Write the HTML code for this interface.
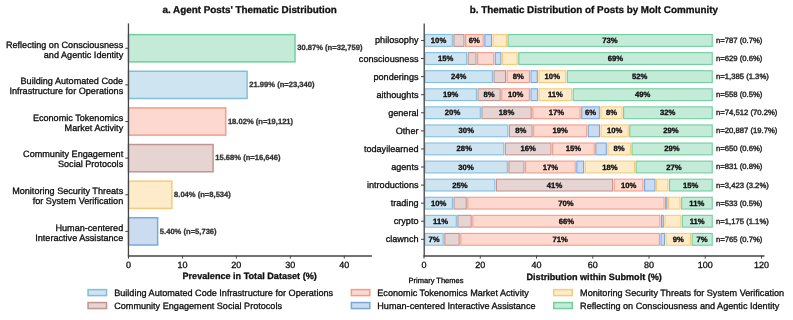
<!DOCTYPE html>
<html><head><meta charset="utf-8"><style>
html,body{margin:0;padding:0;background:#fff;width:793px;height:320px;overflow:hidden}
svg{display:block;will-change:transform}
text{font-family:"Liberation Sans", sans-serif;text-rendering:geometricPrecision}
</style></head><body>
<svg width="793" height="320" viewBox="0 0 793 320">
<rect x="0" y="0" width="793" height="320" fill="#fff"/>
<text x="249.65" y="12.80" font-size="9.85" font-weight="700" text-anchor="middle" fill="#111" stroke="#111" stroke-width="0.3">a. Agent Posts' Thematic Distribution</text>
<rect x="128.50" y="34.62" width="166.51" height="27.25" fill="#c4ead8" stroke="#72cfa0" stroke-width="1.5"/>
<text x="297.21" y="50.35" font-size="7.6" font-weight="700" text-anchor="start" fill="#333" stroke="#333" stroke-width="0.3">30.87% (n=32,759)</text>
<text x="123.20" y="47.60" font-size="9.1" font-weight="400" text-anchor="end" fill="#0d0d0d" stroke="#0d0d0d" stroke-width="0.3">Reflecting on Consciousness</text>
<text x="123.20" y="57.50" font-size="9.1" font-weight="400" text-anchor="end" fill="#0d0d0d" stroke="#0d0d0d" stroke-width="0.3">and Agentic Identity</text>
<line x1="125.30" y1="48.25" x2="128.50" y2="48.25" stroke="#444" stroke-width="1"/>
<rect x="128.50" y="71.25" width="118.61" height="27.25" fill="#cfe4f1" stroke="#82bee0" stroke-width="1.5"/>
<text x="249.31" y="86.98" font-size="7.6" font-weight="700" text-anchor="start" fill="#333" stroke="#333" stroke-width="0.3">21.99% (n=23,340)</text>
<text x="123.20" y="84.23" font-size="9.1" font-weight="400" text-anchor="end" fill="#0d0d0d" stroke="#0d0d0d" stroke-width="0.3">Building Automated Code</text>
<text x="123.20" y="94.13" font-size="9.1" font-weight="400" text-anchor="end" fill="#0d0d0d" stroke="#0d0d0d" stroke-width="0.3">Infrastructure for Operations</text>
<line x1="125.30" y1="84.88" x2="128.50" y2="84.88" stroke="#444" stroke-width="1"/>
<rect x="128.50" y="107.89" width="97.20" height="27.25" fill="#fdd8ce" stroke="#f59c87" stroke-width="1.5"/>
<text x="227.90" y="123.61" font-size="7.6" font-weight="700" text-anchor="start" fill="#333" stroke="#333" stroke-width="0.3">18.02% (n=19,121)</text>
<text x="123.20" y="120.86" font-size="9.1" font-weight="400" text-anchor="end" fill="#0d0d0d" stroke="#0d0d0d" stroke-width="0.3">Economic Tokenomics</text>
<text x="123.20" y="130.76" font-size="9.1" font-weight="400" text-anchor="end" fill="#0d0d0d" stroke="#0d0d0d" stroke-width="0.3">Market Activity</text>
<line x1="125.30" y1="121.51" x2="128.50" y2="121.51" stroke="#444" stroke-width="1"/>
<rect x="128.50" y="144.52" width="84.58" height="27.25" fill="#e6d4d3" stroke="#c09590" stroke-width="1.5"/>
<text x="215.28" y="160.24" font-size="7.6" font-weight="700" text-anchor="start" fill="#333" stroke="#333" stroke-width="0.3">15.68% (n=16,646)</text>
<text x="123.20" y="157.49" font-size="9.1" font-weight="400" text-anchor="end" fill="#0d0d0d" stroke="#0d0d0d" stroke-width="0.3">Community Engagement</text>
<text x="123.20" y="167.39" font-size="9.1" font-weight="400" text-anchor="end" fill="#0d0d0d" stroke="#0d0d0d" stroke-width="0.3">Social Protocols</text>
<line x1="125.30" y1="158.14" x2="128.50" y2="158.14" stroke="#444" stroke-width="1"/>
<rect x="128.50" y="181.15" width="43.37" height="27.25" fill="#fdebc9" stroke="#f7cb77" stroke-width="1.5"/>
<text x="174.07" y="196.87" font-size="7.6" font-weight="700" text-anchor="start" fill="#333" stroke="#333" stroke-width="0.3">8.04% (n=8,534)</text>
<text x="123.20" y="194.12" font-size="9.1" font-weight="400" text-anchor="end" fill="#0d0d0d" stroke="#0d0d0d" stroke-width="0.3">Monitoring Security Threats</text>
<text x="123.20" y="204.02" font-size="9.1" font-weight="400" text-anchor="end" fill="#0d0d0d" stroke="#0d0d0d" stroke-width="0.3">for System Verification</text>
<line x1="125.30" y1="194.77" x2="128.50" y2="194.77" stroke="#444" stroke-width="1"/>
<rect x="128.50" y="217.78" width="29.13" height="27.25" fill="#ccdcf0" stroke="#7ea6dc" stroke-width="1.5"/>
<text x="159.83" y="233.50" font-size="7.6" font-weight="700" text-anchor="start" fill="#333" stroke="#333" stroke-width="0.3">5.40% (n=5,736)</text>
<text x="123.20" y="230.75" font-size="9.1" font-weight="400" text-anchor="end" fill="#0d0d0d" stroke="#0d0d0d" stroke-width="0.3">Human-centered</text>
<text x="123.20" y="240.65" font-size="9.1" font-weight="400" text-anchor="end" fill="#0d0d0d" stroke="#0d0d0d" stroke-width="0.3">Interactive Assistance</text>
<line x1="125.30" y1="231.40" x2="128.50" y2="231.40" stroke="#444" stroke-width="1"/>
<line x1="128.50" y1="255.60" x2="128.50" y2="258.60" stroke="#444" stroke-width="1"/>
<text x="128.50" y="267.80" font-size="9" font-weight="400" text-anchor="middle" fill="#0d0d0d" stroke="#0d0d0d" stroke-width="0.3">0</text>
<line x1="182.44" y1="255.60" x2="182.44" y2="258.60" stroke="#444" stroke-width="1"/>
<text x="182.44" y="267.80" font-size="9" font-weight="400" text-anchor="middle" fill="#0d0d0d" stroke="#0d0d0d" stroke-width="0.3">10</text>
<line x1="236.38" y1="255.60" x2="236.38" y2="258.60" stroke="#444" stroke-width="1"/>
<text x="236.38" y="267.80" font-size="9" font-weight="400" text-anchor="middle" fill="#0d0d0d" stroke="#0d0d0d" stroke-width="0.3">20</text>
<line x1="290.32" y1="255.60" x2="290.32" y2="258.60" stroke="#444" stroke-width="1"/>
<text x="290.32" y="267.80" font-size="9" font-weight="400" text-anchor="middle" fill="#0d0d0d" stroke="#0d0d0d" stroke-width="0.3">30</text>
<line x1="344.26" y1="255.60" x2="344.26" y2="258.60" stroke="#444" stroke-width="1"/>
<text x="344.26" y="267.80" font-size="9" font-weight="400" text-anchor="middle" fill="#0d0d0d" stroke="#0d0d0d" stroke-width="0.3">40</text>
<line x1="128.45" y1="23.40" x2="128.45" y2="256.60" stroke="#444" stroke-width="1.3"/>
<line x1="127.80" y1="256.00" x2="371.90" y2="256.00" stroke="#444" stroke-width="1.3"/>
<text x="249.65" y="279.30" font-size="9.1" font-weight="700" text-anchor="middle" fill="#111" stroke="#111" stroke-width="0.3">Prevalence in Total Dataset (%)</text>
<text x="593.85" y="12.80" font-size="9.85" font-weight="700" text-anchor="middle" fill="#111" stroke="#111" stroke-width="0.3">b. Thematic Distribution of Posts by Molt Community</text>
<rect x="424.90" y="34.55" width="27.40" height="11.80" fill="#cfe4f1" stroke="#82bee0" stroke-width="1.1"/>
<text x="438.55" y="42.95" font-size="7.7" font-weight="700" text-anchor="middle" fill="#0d0d0d" stroke="#0d0d0d" stroke-width="0.3">10%</text>
<rect x="453.90" y="34.55" width="10.10" height="11.80" fill="#e6d4d3" stroke="#c09590" stroke-width="1.1"/>
<rect x="465.60" y="34.55" width="17.60" height="11.80" fill="#fdd8ce" stroke="#f59c87" stroke-width="1.1"/>
<text x="474.40" y="42.95" font-size="7.7" font-weight="700" text-anchor="middle" fill="#0d0d0d" stroke="#0d0d0d" stroke-width="0.3">6%</text>
<rect x="484.80" y="34.55" width="6.70" height="11.80" fill="#ccdcf0" stroke="#7ea6dc" stroke-width="1.1"/>
<rect x="493.10" y="34.55" width="13.30" height="11.80" fill="#fdebc9" stroke="#f7cb77" stroke-width="1.1"/>
<rect x="508.00" y="34.55" width="204.25" height="11.80" fill="#c4ead8" stroke="#72cfa0" stroke-width="1.1"/>
<text x="609.98" y="42.95" font-size="7.7" font-weight="700" text-anchor="middle" fill="#0d0d0d" stroke="#0d0d0d" stroke-width="0.3">73%</text>
<text x="716.00" y="42.90" font-size="7.7" font-weight="400" text-anchor="start" fill="#2e2e2e" stroke="#2e2e2e" stroke-width="0.45">n=787 (0.7%)</text>
<text x="418.50" y="43.45" font-size="9.1" font-weight="400" text-anchor="end" fill="#0d0d0d" stroke="#0d0d0d" stroke-width="0.3">philosophy</text>
<line x1="421.00" y1="40.45" x2="424.00" y2="40.45" stroke="#444" stroke-width="1"/>
<rect x="424.90" y="52.63" width="41.70" height="11.80" fill="#cfe4f1" stroke="#82bee0" stroke-width="1.1"/>
<text x="445.70" y="61.03" font-size="7.7" font-weight="700" text-anchor="middle" fill="#0d0d0d" stroke="#0d0d0d" stroke-width="0.3">15%</text>
<rect x="468.20" y="52.63" width="7.80" height="11.80" fill="#e6d4d3" stroke="#c09590" stroke-width="1.1"/>
<rect x="477.60" y="52.63" width="16.10" height="11.80" fill="#fdd8ce" stroke="#f59c87" stroke-width="1.1"/>
<rect x="495.30" y="52.63" width="5.60" height="11.80" fill="#ccdcf0" stroke="#7ea6dc" stroke-width="1.1"/>
<rect x="502.50" y="52.63" width="14.70" height="11.80" fill="#fdebc9" stroke="#f7cb77" stroke-width="1.1"/>
<rect x="518.80" y="52.63" width="193.45" height="11.80" fill="#c4ead8" stroke="#72cfa0" stroke-width="1.1"/>
<text x="615.38" y="61.03" font-size="7.7" font-weight="700" text-anchor="middle" fill="#0d0d0d" stroke="#0d0d0d" stroke-width="0.3">69%</text>
<text x="716.00" y="60.98" font-size="7.7" font-weight="400" text-anchor="start" fill="#2e2e2e" stroke="#2e2e2e" stroke-width="0.45">n=629 (0.6%)</text>
<text x="418.50" y="61.53" font-size="9.1" font-weight="400" text-anchor="end" fill="#0d0d0d" stroke="#0d0d0d" stroke-width="0.3">consciousness</text>
<line x1="421.00" y1="58.53" x2="424.00" y2="58.53" stroke="#444" stroke-width="1"/>
<rect x="424.90" y="70.71" width="67.50" height="11.80" fill="#cfe4f1" stroke="#82bee0" stroke-width="1.1"/>
<text x="458.60" y="79.11" font-size="7.7" font-weight="700" text-anchor="middle" fill="#0d0d0d" stroke="#0d0d0d" stroke-width="0.3">24%</text>
<rect x="494.00" y="70.71" width="11.50" height="11.80" fill="#e6d4d3" stroke="#c09590" stroke-width="1.1"/>
<rect x="507.10" y="70.71" width="22.30" height="11.80" fill="#fdd8ce" stroke="#f59c87" stroke-width="1.1"/>
<text x="518.25" y="79.11" font-size="7.7" font-weight="700" text-anchor="middle" fill="#0d0d0d" stroke="#0d0d0d" stroke-width="0.3">8%</text>
<rect x="531.00" y="70.71" width="6.30" height="11.80" fill="#ccdcf0" stroke="#7ea6dc" stroke-width="1.1"/>
<rect x="538.90" y="70.71" width="26.80" height="11.80" fill="#fdebc9" stroke="#f7cb77" stroke-width="1.1"/>
<text x="552.30" y="79.11" font-size="7.7" font-weight="700" text-anchor="middle" fill="#0d0d0d" stroke="#0d0d0d" stroke-width="0.3">10%</text>
<rect x="567.30" y="70.71" width="144.95" height="11.80" fill="#c4ead8" stroke="#72cfa0" stroke-width="1.1"/>
<text x="639.62" y="79.11" font-size="7.7" font-weight="700" text-anchor="middle" fill="#0d0d0d" stroke="#0d0d0d" stroke-width="0.3">52%</text>
<text x="716.00" y="79.06" font-size="7.7" font-weight="400" text-anchor="start" fill="#2e2e2e" stroke="#2e2e2e" stroke-width="0.45">n=1,385 (1.3%)</text>
<text x="418.50" y="79.61" font-size="9.1" font-weight="400" text-anchor="end" fill="#0d0d0d" stroke="#0d0d0d" stroke-width="0.3">ponderings</text>
<line x1="421.00" y1="76.61" x2="424.00" y2="76.61" stroke="#444" stroke-width="1"/>
<rect x="424.90" y="88.79" width="51.50" height="11.80" fill="#cfe4f1" stroke="#82bee0" stroke-width="1.1"/>
<text x="450.60" y="97.19" font-size="7.7" font-weight="700" text-anchor="middle" fill="#0d0d0d" stroke="#0d0d0d" stroke-width="0.3">19%</text>
<rect x="478.00" y="88.79" width="22.20" height="11.80" fill="#e6d4d3" stroke="#c09590" stroke-width="1.1"/>
<text x="489.10" y="97.19" font-size="7.7" font-weight="700" text-anchor="middle" fill="#0d0d0d" stroke="#0d0d0d" stroke-width="0.3">8%</text>
<rect x="501.80" y="88.79" width="27.60" height="11.80" fill="#fdd8ce" stroke="#f59c87" stroke-width="1.1"/>
<text x="515.60" y="97.19" font-size="7.7" font-weight="700" text-anchor="middle" fill="#0d0d0d" stroke="#0d0d0d" stroke-width="0.3">10%</text>
<rect x="531.00" y="88.79" width="6.60" height="11.80" fill="#ccdcf0" stroke="#7ea6dc" stroke-width="1.1"/>
<rect x="539.20" y="88.79" width="32.40" height="11.80" fill="#fdebc9" stroke="#f7cb77" stroke-width="1.1"/>
<text x="555.40" y="97.19" font-size="7.7" font-weight="700" text-anchor="middle" fill="#0d0d0d" stroke="#0d0d0d" stroke-width="0.3">11%</text>
<rect x="573.20" y="88.79" width="139.05" height="11.80" fill="#c4ead8" stroke="#72cfa0" stroke-width="1.1"/>
<text x="642.58" y="97.19" font-size="7.7" font-weight="700" text-anchor="middle" fill="#0d0d0d" stroke="#0d0d0d" stroke-width="0.3">49%</text>
<text x="716.00" y="97.14" font-size="7.7" font-weight="400" text-anchor="start" fill="#2e2e2e" stroke="#2e2e2e" stroke-width="0.45">n=558 (0.5%)</text>
<text x="418.50" y="97.69" font-size="9.1" font-weight="400" text-anchor="end" fill="#0d0d0d" stroke="#0d0d0d" stroke-width="0.3">aithoughts</text>
<line x1="421.00" y1="94.69" x2="424.00" y2="94.69" stroke="#444" stroke-width="1"/>
<rect x="424.90" y="106.87" width="55.40" height="11.80" fill="#cfe4f1" stroke="#82bee0" stroke-width="1.1"/>
<text x="452.55" y="115.27" font-size="7.7" font-weight="700" text-anchor="middle" fill="#0d0d0d" stroke="#0d0d0d" stroke-width="0.3">20%</text>
<rect x="481.90" y="106.87" width="49.30" height="11.80" fill="#e6d4d3" stroke="#c09590" stroke-width="1.1"/>
<text x="506.55" y="115.27" font-size="7.7" font-weight="700" text-anchor="middle" fill="#0d0d0d" stroke="#0d0d0d" stroke-width="0.3">18%</text>
<rect x="532.80" y="106.87" width="47.30" height="11.80" fill="#fdd8ce" stroke="#f59c87" stroke-width="1.1"/>
<text x="556.45" y="115.27" font-size="7.7" font-weight="700" text-anchor="middle" fill="#0d0d0d" stroke="#0d0d0d" stroke-width="0.3">17%</text>
<rect x="581.70" y="106.87" width="17.60" height="11.80" fill="#ccdcf0" stroke="#7ea6dc" stroke-width="1.1"/>
<text x="590.50" y="115.27" font-size="7.7" font-weight="700" text-anchor="middle" fill="#0d0d0d" stroke="#0d0d0d" stroke-width="0.3">6%</text>
<rect x="600.90" y="106.87" width="21.10" height="11.80" fill="#fdebc9" stroke="#f7cb77" stroke-width="1.1"/>
<text x="611.45" y="115.27" font-size="7.7" font-weight="700" text-anchor="middle" fill="#0d0d0d" stroke="#0d0d0d" stroke-width="0.3">8%</text>
<rect x="623.60" y="106.87" width="88.65" height="11.80" fill="#c4ead8" stroke="#72cfa0" stroke-width="1.1"/>
<text x="667.77" y="115.27" font-size="7.7" font-weight="700" text-anchor="middle" fill="#0d0d0d" stroke="#0d0d0d" stroke-width="0.3">32%</text>
<text x="716.00" y="115.22" font-size="7.7" font-weight="400" text-anchor="start" fill="#2e2e2e" stroke="#2e2e2e" stroke-width="0.45">n=74,512 (70.2%)</text>
<text x="418.50" y="115.77" font-size="9.1" font-weight="400" text-anchor="end" fill="#0d0d0d" stroke="#0d0d0d" stroke-width="0.3">general</text>
<line x1="421.00" y1="112.77" x2="424.00" y2="112.77" stroke="#444" stroke-width="1"/>
<rect x="424.90" y="124.95" width="82.90" height="11.80" fill="#cfe4f1" stroke="#82bee0" stroke-width="1.1"/>
<text x="466.30" y="133.35" font-size="7.7" font-weight="700" text-anchor="middle" fill="#0d0d0d" stroke="#0d0d0d" stroke-width="0.3">30%</text>
<rect x="509.40" y="124.95" width="22.70" height="11.80" fill="#e6d4d3" stroke="#c09590" stroke-width="1.1"/>
<text x="520.75" y="133.35" font-size="7.7" font-weight="700" text-anchor="middle" fill="#0d0d0d" stroke="#0d0d0d" stroke-width="0.3">8%</text>
<rect x="533.70" y="124.95" width="53.00" height="11.80" fill="#fdd8ce" stroke="#f59c87" stroke-width="1.1"/>
<text x="560.20" y="133.35" font-size="7.7" font-weight="700" text-anchor="middle" fill="#0d0d0d" stroke="#0d0d0d" stroke-width="0.3">19%</text>
<rect x="588.30" y="124.95" width="11.20" height="11.80" fill="#ccdcf0" stroke="#7ea6dc" stroke-width="1.1"/>
<rect x="601.10" y="124.95" width="27.10" height="11.80" fill="#fdebc9" stroke="#f7cb77" stroke-width="1.1"/>
<text x="614.65" y="133.35" font-size="7.7" font-weight="700" text-anchor="middle" fill="#0d0d0d" stroke="#0d0d0d" stroke-width="0.3">10%</text>
<rect x="629.80" y="124.95" width="82.45" height="11.80" fill="#c4ead8" stroke="#72cfa0" stroke-width="1.1"/>
<text x="670.88" y="133.35" font-size="7.7" font-weight="700" text-anchor="middle" fill="#0d0d0d" stroke="#0d0d0d" stroke-width="0.3">29%</text>
<text x="716.00" y="133.30" font-size="7.7" font-weight="400" text-anchor="start" fill="#2e2e2e" stroke="#2e2e2e" stroke-width="0.45">n=20,887 (19.7%)</text>
<text x="418.50" y="133.85" font-size="9.1" font-weight="400" text-anchor="end" fill="#0d0d0d" stroke="#0d0d0d" stroke-width="0.3">Other</text>
<line x1="421.00" y1="130.85" x2="424.00" y2="130.85" stroke="#444" stroke-width="1"/>
<rect x="424.90" y="143.03" width="78.90" height="11.80" fill="#cfe4f1" stroke="#82bee0" stroke-width="1.1"/>
<text x="464.30" y="151.43" font-size="7.7" font-weight="700" text-anchor="middle" fill="#0d0d0d" stroke="#0d0d0d" stroke-width="0.3">28%</text>
<rect x="505.40" y="143.03" width="45.60" height="11.80" fill="#e6d4d3" stroke="#c09590" stroke-width="1.1"/>
<text x="528.20" y="151.43" font-size="7.7" font-weight="700" text-anchor="middle" fill="#0d0d0d" stroke="#0d0d0d" stroke-width="0.3">16%</text>
<rect x="552.60" y="143.03" width="41.60" height="11.80" fill="#fdd8ce" stroke="#f59c87" stroke-width="1.1"/>
<text x="573.40" y="151.43" font-size="7.7" font-weight="700" text-anchor="middle" fill="#0d0d0d" stroke="#0d0d0d" stroke-width="0.3">15%</text>
<rect x="595.80" y="143.03" width="10.50" height="11.80" fill="#ccdcf0" stroke="#7ea6dc" stroke-width="1.1"/>
<rect x="607.90" y="143.03" width="22.50" height="11.80" fill="#fdebc9" stroke="#f7cb77" stroke-width="1.1"/>
<text x="619.15" y="151.43" font-size="7.7" font-weight="700" text-anchor="middle" fill="#0d0d0d" stroke="#0d0d0d" stroke-width="0.3">8%</text>
<rect x="632.00" y="143.03" width="80.25" height="11.80" fill="#c4ead8" stroke="#72cfa0" stroke-width="1.1"/>
<text x="671.98" y="151.43" font-size="7.7" font-weight="700" text-anchor="middle" fill="#0d0d0d" stroke="#0d0d0d" stroke-width="0.3">29%</text>
<text x="716.00" y="151.38" font-size="7.7" font-weight="400" text-anchor="start" fill="#2e2e2e" stroke="#2e2e2e" stroke-width="0.45">n=650 (0.6%)</text>
<text x="418.50" y="151.93" font-size="9.1" font-weight="400" text-anchor="end" fill="#0d0d0d" stroke="#0d0d0d" stroke-width="0.3">todayilearned</text>
<line x1="421.00" y1="148.93" x2="424.00" y2="148.93" stroke="#444" stroke-width="1"/>
<rect x="424.90" y="161.11" width="82.40" height="11.80" fill="#cfe4f1" stroke="#82bee0" stroke-width="1.1"/>
<text x="466.05" y="169.51" font-size="7.7" font-weight="700" text-anchor="middle" fill="#0d0d0d" stroke="#0d0d0d" stroke-width="0.3">30%</text>
<rect x="508.90" y="161.11" width="15.10" height="11.80" fill="#e6d4d3" stroke="#c09590" stroke-width="1.1"/>
<rect x="525.60" y="161.11" width="49.60" height="11.80" fill="#fdd8ce" stroke="#f59c87" stroke-width="1.1"/>
<text x="550.40" y="169.51" font-size="7.7" font-weight="700" text-anchor="middle" fill="#0d0d0d" stroke="#0d0d0d" stroke-width="0.3">17%</text>
<rect x="576.80" y="161.11" width="6.80" height="11.80" fill="#ccdcf0" stroke="#7ea6dc" stroke-width="1.1"/>
<rect x="585.20" y="161.11" width="49.30" height="11.80" fill="#fdebc9" stroke="#f7cb77" stroke-width="1.1"/>
<text x="609.85" y="169.51" font-size="7.7" font-weight="700" text-anchor="middle" fill="#0d0d0d" stroke="#0d0d0d" stroke-width="0.3">18%</text>
<rect x="636.10" y="161.11" width="76.15" height="11.80" fill="#c4ead8" stroke="#72cfa0" stroke-width="1.1"/>
<text x="674.02" y="169.51" font-size="7.7" font-weight="700" text-anchor="middle" fill="#0d0d0d" stroke="#0d0d0d" stroke-width="0.3">27%</text>
<text x="716.00" y="169.46" font-size="7.7" font-weight="400" text-anchor="start" fill="#2e2e2e" stroke="#2e2e2e" stroke-width="0.45">n=831 (0.8%)</text>
<text x="418.50" y="170.01" font-size="9.1" font-weight="400" text-anchor="end" fill="#0d0d0d" stroke="#0d0d0d" stroke-width="0.3">agents</text>
<line x1="421.00" y1="167.01" x2="424.00" y2="167.01" stroke="#444" stroke-width="1"/>
<rect x="424.90" y="179.19" width="70.00" height="11.80" fill="#cfe4f1" stroke="#82bee0" stroke-width="1.1"/>
<text x="459.85" y="187.59" font-size="7.7" font-weight="700" text-anchor="middle" fill="#0d0d0d" stroke="#0d0d0d" stroke-width="0.3">25%</text>
<rect x="496.50" y="179.19" width="116.10" height="11.80" fill="#e6d4d3" stroke="#c09590" stroke-width="1.1"/>
<text x="554.55" y="187.59" font-size="7.7" font-weight="700" text-anchor="middle" fill="#0d0d0d" stroke="#0d0d0d" stroke-width="0.3">41%</text>
<rect x="614.20" y="179.19" width="28.80" height="11.80" fill="#fdd8ce" stroke="#f59c87" stroke-width="1.1"/>
<text x="628.60" y="187.59" font-size="7.7" font-weight="700" text-anchor="middle" fill="#0d0d0d" stroke="#0d0d0d" stroke-width="0.3">10%</text>
<rect x="644.60" y="179.19" width="10.40" height="11.80" fill="#ccdcf0" stroke="#7ea6dc" stroke-width="1.1"/>
<rect x="656.60" y="179.19" width="11.30" height="11.80" fill="#fdebc9" stroke="#f7cb77" stroke-width="1.1"/>
<rect x="669.50" y="179.19" width="42.75" height="11.80" fill="#c4ead8" stroke="#72cfa0" stroke-width="1.1"/>
<text x="690.73" y="187.59" font-size="7.7" font-weight="700" text-anchor="middle" fill="#0d0d0d" stroke="#0d0d0d" stroke-width="0.3">15%</text>
<text x="716.00" y="187.54" font-size="7.7" font-weight="400" text-anchor="start" fill="#2e2e2e" stroke="#2e2e2e" stroke-width="0.45">n=3,423 (3.2%)</text>
<text x="418.50" y="188.09" font-size="9.1" font-weight="400" text-anchor="end" fill="#0d0d0d" stroke="#0d0d0d" stroke-width="0.3">introductions</text>
<line x1="421.00" y1="185.09" x2="424.00" y2="185.09" stroke="#444" stroke-width="1"/>
<rect x="424.90" y="197.27" width="27.50" height="11.80" fill="#cfe4f1" stroke="#82bee0" stroke-width="1.1"/>
<text x="438.60" y="205.67" font-size="7.7" font-weight="700" text-anchor="middle" fill="#0d0d0d" stroke="#0d0d0d" stroke-width="0.3">10%</text>
<rect x="454.00" y="197.27" width="12.20" height="11.80" fill="#e6d4d3" stroke="#c09590" stroke-width="1.1"/>
<rect x="467.80" y="197.27" width="196.30" height="11.80" fill="#fdd8ce" stroke="#f59c87" stroke-width="1.1"/>
<text x="565.95" y="205.67" font-size="7.7" font-weight="700" text-anchor="middle" fill="#0d0d0d" stroke="#0d0d0d" stroke-width="0.3">70%</text>
<rect x="665.70" y="197.27" width="1.30" height="11.80" fill="#ccdcf0" stroke="#7ea6dc" stroke-width="1.1"/>
<rect x="668.60" y="197.27" width="11.50" height="11.80" fill="#fdebc9" stroke="#f7cb77" stroke-width="1.1"/>
<rect x="681.70" y="197.27" width="30.55" height="11.80" fill="#c4ead8" stroke="#72cfa0" stroke-width="1.1"/>
<text x="696.83" y="205.67" font-size="7.7" font-weight="700" text-anchor="middle" fill="#0d0d0d" stroke="#0d0d0d" stroke-width="0.3">11%</text>
<text x="716.00" y="205.62" font-size="7.7" font-weight="400" text-anchor="start" fill="#2e2e2e" stroke="#2e2e2e" stroke-width="0.45">n=533 (0.5%)</text>
<text x="418.50" y="206.17" font-size="9.1" font-weight="400" text-anchor="end" fill="#0d0d0d" stroke="#0d0d0d" stroke-width="0.3">trading</text>
<line x1="421.00" y1="203.17" x2="424.00" y2="203.17" stroke="#444" stroke-width="1"/>
<rect x="424.90" y="215.35" width="31.40" height="11.80" fill="#cfe4f1" stroke="#82bee0" stroke-width="1.1"/>
<text x="440.55" y="223.75" font-size="7.7" font-weight="700" text-anchor="middle" fill="#0d0d0d" stroke="#0d0d0d" stroke-width="0.3">11%</text>
<rect x="457.90" y="215.35" width="13.30" height="11.80" fill="#e6d4d3" stroke="#c09590" stroke-width="1.1"/>
<rect x="472.80" y="215.35" width="187.10" height="11.80" fill="#fdd8ce" stroke="#f59c87" stroke-width="1.1"/>
<text x="566.35" y="223.75" font-size="7.7" font-weight="700" text-anchor="middle" fill="#0d0d0d" stroke="#0d0d0d" stroke-width="0.3">66%</text>
<rect x="661.50" y="215.35" width="1.80" height="11.80" fill="#ccdcf0" stroke="#7ea6dc" stroke-width="1.1"/>
<rect x="664.90" y="215.35" width="15.90" height="11.80" fill="#fdebc9" stroke="#f7cb77" stroke-width="1.1"/>
<rect x="682.40" y="215.35" width="29.85" height="11.80" fill="#c4ead8" stroke="#72cfa0" stroke-width="1.1"/>
<text x="697.17" y="223.75" font-size="7.7" font-weight="700" text-anchor="middle" fill="#0d0d0d" stroke="#0d0d0d" stroke-width="0.3">11%</text>
<text x="716.00" y="223.70" font-size="7.7" font-weight="400" text-anchor="start" fill="#2e2e2e" stroke="#2e2e2e" stroke-width="0.45">n=1,175 (1.1%)</text>
<text x="418.50" y="224.25" font-size="9.1" font-weight="400" text-anchor="end" fill="#0d0d0d" stroke="#0d0d0d" stroke-width="0.3">crypto</text>
<line x1="421.00" y1="221.25" x2="424.00" y2="221.25" stroke="#444" stroke-width="1"/>
<rect x="424.90" y="233.43" width="18.30" height="11.80" fill="#cfe4f1" stroke="#82bee0" stroke-width="1.1"/>
<text x="434.00" y="241.83" font-size="7.7" font-weight="700" text-anchor="middle" fill="#0d0d0d" stroke="#0d0d0d" stroke-width="0.3">7%</text>
<rect x="444.80" y="233.43" width="14.40" height="11.80" fill="#e6d4d3" stroke="#c09590" stroke-width="1.1"/>
<rect x="460.80" y="233.43" width="198.60" height="11.80" fill="#fdd8ce" stroke="#f59c87" stroke-width="1.1"/>
<text x="560.10" y="241.83" font-size="7.7" font-weight="700" text-anchor="middle" fill="#0d0d0d" stroke="#0d0d0d" stroke-width="0.3">71%</text>
<rect x="661.00" y="233.43" width="3.50" height="11.80" fill="#ccdcf0" stroke="#7ea6dc" stroke-width="1.1"/>
<rect x="666.10" y="233.43" width="24.40" height="11.80" fill="#fdebc9" stroke="#f7cb77" stroke-width="1.1"/>
<text x="678.30" y="241.83" font-size="7.7" font-weight="700" text-anchor="middle" fill="#0d0d0d" stroke="#0d0d0d" stroke-width="0.3">9%</text>
<rect x="692.10" y="233.43" width="20.15" height="11.80" fill="#c4ead8" stroke="#72cfa0" stroke-width="1.1"/>
<text x="702.02" y="241.83" font-size="7.7" font-weight="700" text-anchor="middle" fill="#0d0d0d" stroke="#0d0d0d" stroke-width="0.3">7%</text>
<text x="716.00" y="241.78" font-size="7.7" font-weight="400" text-anchor="start" fill="#2e2e2e" stroke="#2e2e2e" stroke-width="0.45">n=765 (0.7%)</text>
<text x="418.50" y="242.33" font-size="9.1" font-weight="400" text-anchor="end" fill="#0d0d0d" stroke="#0d0d0d" stroke-width="0.3">clawnch</text>
<line x1="421.00" y1="239.33" x2="424.00" y2="239.33" stroke="#444" stroke-width="1"/>
<line x1="424.00" y1="255.60" x2="424.00" y2="258.60" stroke="#444" stroke-width="1"/>
<text x="424.00" y="267.80" font-size="9" font-weight="400" text-anchor="middle" fill="#0d0d0d" stroke="#0d0d0d" stroke-width="0.3">0</text>
<line x1="480.25" y1="255.60" x2="480.25" y2="258.60" stroke="#444" stroke-width="1"/>
<text x="480.25" y="267.80" font-size="9" font-weight="400" text-anchor="middle" fill="#0d0d0d" stroke="#0d0d0d" stroke-width="0.3">20</text>
<line x1="536.50" y1="255.60" x2="536.50" y2="258.60" stroke="#444" stroke-width="1"/>
<text x="536.50" y="267.80" font-size="9" font-weight="400" text-anchor="middle" fill="#0d0d0d" stroke="#0d0d0d" stroke-width="0.3">40</text>
<line x1="592.75" y1="255.60" x2="592.75" y2="258.60" stroke="#444" stroke-width="1"/>
<text x="592.75" y="267.80" font-size="9" font-weight="400" text-anchor="middle" fill="#0d0d0d" stroke="#0d0d0d" stroke-width="0.3">60</text>
<line x1="649.00" y1="255.60" x2="649.00" y2="258.60" stroke="#444" stroke-width="1"/>
<text x="649.00" y="267.80" font-size="9" font-weight="400" text-anchor="middle" fill="#0d0d0d" stroke="#0d0d0d" stroke-width="0.3">80</text>
<line x1="705.25" y1="255.60" x2="705.25" y2="258.60" stroke="#444" stroke-width="1"/>
<text x="705.25" y="267.80" font-size="9" font-weight="400" text-anchor="middle" fill="#0d0d0d" stroke="#0d0d0d" stroke-width="0.3">100</text>
<line x1="761.50" y1="255.60" x2="761.50" y2="258.60" stroke="#444" stroke-width="1"/>
<text x="761.50" y="267.80" font-size="9" font-weight="400" text-anchor="middle" fill="#0d0d0d" stroke="#0d0d0d" stroke-width="0.3">120</text>
<line x1="424.20" y1="23.40" x2="424.20" y2="256.60" stroke="#444" stroke-width="1.3"/>
<line x1="423.55" y1="256.00" x2="764.50" y2="256.00" stroke="#444" stroke-width="1.3"/>
<text x="594.20" y="279.55" font-size="9.1" font-weight="700" text-anchor="middle" fill="#111" stroke="#111" stroke-width="0.3">Distribution within Submolt (%)</text>
<text x="436.00" y="282.70" font-size="7.5" font-weight="400" text-anchor="middle" fill="#0d0d0d" stroke="#0d0d0d" stroke-width="0.3">Primary Themes</text>
<rect x="88.05" y="289.60" width="18.50" height="6.00" fill="#cfe4f1" stroke="#82bee0" stroke-width="1.5"/>
<text x="114.20" y="295.65" font-size="9.1" font-weight="400" text-anchor="start" fill="#0d0d0d" stroke="#0d0d0d" stroke-width="0.3">Building Automated Code Infrastructure for Operations</text>
<rect x="88.05" y="302.55" width="18.50" height="6.00" fill="#e6d4d3" stroke="#c09590" stroke-width="1.5"/>
<text x="114.20" y="308.60" font-size="9.1" font-weight="400" text-anchor="start" fill="#0d0d0d" stroke="#0d0d0d" stroke-width="0.3">Community Engagement Social Protocols</text>
<rect x="351.35" y="289.60" width="18.50" height="6.00" fill="#fdd8ce" stroke="#f59c87" stroke-width="1.5"/>
<text x="377.30" y="295.65" font-size="9.1" font-weight="400" text-anchor="start" fill="#0d0d0d" stroke="#0d0d0d" stroke-width="0.3">Economic Tokenomics Market Activity</text>
<rect x="351.35" y="302.55" width="18.50" height="6.00" fill="#ccdcf0" stroke="#7ea6dc" stroke-width="1.5"/>
<text x="377.30" y="308.60" font-size="9.1" font-weight="400" text-anchor="start" fill="#0d0d0d" stroke="#0d0d0d" stroke-width="0.3">Human-centered Interactive Assistance</text>
<rect x="553.75" y="289.60" width="18.50" height="6.00" fill="#fdebc9" stroke="#f7cb77" stroke-width="1.5"/>
<text x="580.10" y="295.65" font-size="9.1" font-weight="400" text-anchor="start" fill="#0d0d0d" stroke="#0d0d0d" stroke-width="0.3">Monitoring Security Threats for System Verification</text>
<rect x="553.75" y="302.55" width="18.50" height="6.00" fill="#c4ead8" stroke="#72cfa0" stroke-width="1.5"/>
<text x="580.10" y="308.60" font-size="9.1" font-weight="400" text-anchor="start" fill="#0d0d0d" stroke="#0d0d0d" stroke-width="0.3">Reflecting on Consciousness and Agentic Identity</text>
</svg>
</body></html>
